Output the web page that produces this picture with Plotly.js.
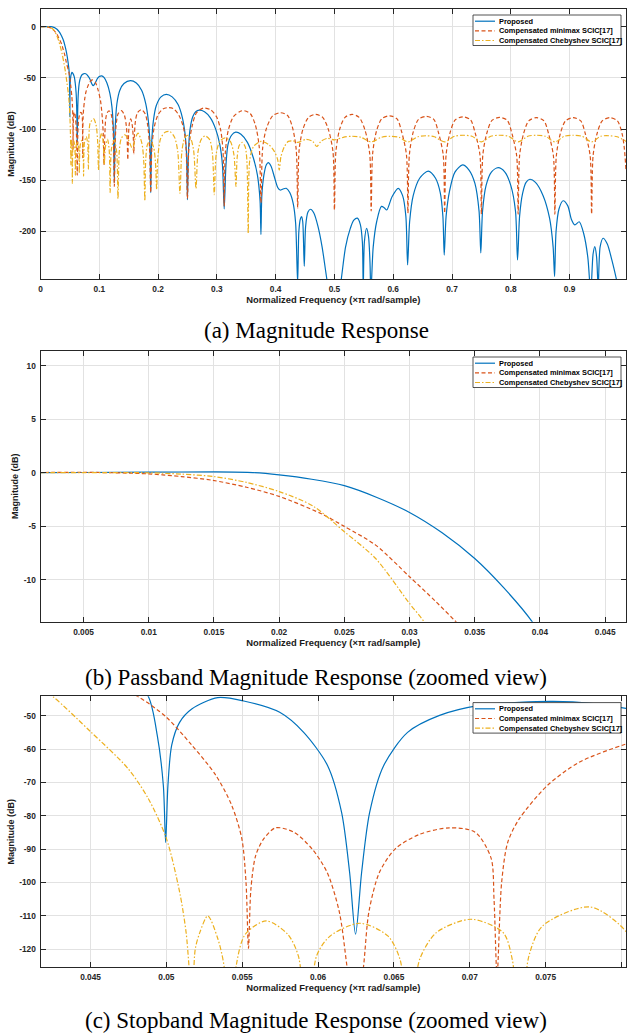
<!DOCTYPE html>
<html><head><meta charset="utf-8">
<script src="https://cdn.plot.ly/plotly-3.0.1.min.js"></script>
<style>html,body{margin:0;padding:0;background:#fff}#chart{width:627px;height:1035px}</style>
</head><body><div id="chart"></div>
<script>
const seriesNames = ["Proposed", "Compensated minimax SCIC[17]", "Compensated Chebyshev SCIC[17]"];

const proposed = [[0,0],[0.005,0.03],[0.01,0.06],[0.015,0.08],[0.018,0.02],[0.02,-0.19],[0.0225,-0.6],[0.025,-1.2],[0.0275,-2.3],[0.03,-3.7],[0.0325,-5.6],[0.035,-8.0],[0.0372,-10.7],[0.0394,-13.9],[0.042,-19.5],[0.0445,-26],[0.047,-35],[0.0488,-44.2],[0.0494,-56],[0.0498,-71],[0.04995,-88],[0.0501,-71],[0.05035,-58.8],[0.05087,-52],[0.05167,-48],[0.05338,-44.6],[0.0551,-45.6],[0.05747,-49],[0.05905,-55],[0.06063,-65],[0.06155,-79],[0.06208,-97],[0.06247,-115.5],[0.06287,-97],[0.0634,-79],[0.06432,-65],[0.0659,-55],[0.06801,-49.9],[0.07064,-46.9],[0.07325,-46],[0.0755,-45.7],[0.078,-46.3],[0.0803,-47.8],[0.084,-51],[0.0875,-56],[0.0898,-57.6],[0.093,-55],[0.097,-50.5],[0.1,-48.7],[0.104,-48],[0.108,-49.5],[0.113,-55],[0.118,-65],[0.1215,-78],[0.124,-100],[0.1256,-152],[0.127,-100],[0.13,-75],[0.135,-62],[0.142,-55.5],[0.153,-52.7],[0.163,-55],[0.172,-62],[0.179,-75],[0.1835,-92],[0.1862,-115],[0.1875,-162],[0.189,-115],[0.192,-92],[0.197,-77],[0.205,-68.5],[0.214,-66],[0.224,-68.5],[0.234,-76],[0.241,-88],[0.246,-105],[0.2485,-125],[0.25,-169],[0.2515,-125],[0.254,-102],[0.259,-88],[0.264,-83],[0.27,-81.5],[0.279,-83],[0.289,-89],[0.298,-100],[0.305,-115],[0.3095,-135],[0.3125,-178],[0.3155,-135],[0.319,-115],[0.325,-106],[0.332,-103],[0.341,-105],[0.352,-113],[0.362,-128],[0.369,-145],[0.3735,-170],[0.375,-203],[0.3765,-165],[0.38,-145],[0.384,-135],[0.3875,-132.8],[0.392,-136],[0.398,-147],[0.4035,-157],[0.4075,-159.5],[0.4125,-158.5],[0.418,-157.8],[0.424,-162],[0.43,-173],[0.434,-192],[0.4374,-250],[0.4395,-200],[0.442,-188],[0.444,-185.5],[0.446,-190],[0.4487,-234],[0.451,-195],[0.455,-181],[0.4595,-178.3],[0.465,-182],[0.472,-195],[0.479,-215],[0.4867,-245],[0.495,-275],[0.505,-275],[0.512,-245],[0.519,-215],[0.527,-197],[0.533,-189],[0.539,-187],[0.544,-193],[0.5475,-210],[0.549,-255],[0.551,-210],[0.5547,-197],[0.558,-205],[0.5605,-230],[0.562,-260],[0.566,-215],[0.572,-190],[0.58,-175.5],[0.585,-177],[0.589,-179],[0.598,-166],[0.6085,-157.8],[0.616,-165],[0.6215,-185],[0.6245,-232.7],[0.628,-190],[0.634,-165],[0.645,-148],[0.6596,-141],[0.672,-148],[0.68,-162],[0.6845,-185],[0.6868,-223],[0.69,-185],[0.696,-160],[0.705,-142],[0.718,-135],[0.729,-140],[0.739,-153],[0.746,-180],[0.749,-221],[0.752,-180],[0.758,-155],[0.767,-142],[0.7786,-137.7],[0.79,-142],[0.8,-155],[0.808,-180],[0.8115,-227.8],[0.815,-185],[0.82,-163],[0.826,-152],[0.8325,-149],[0.842,-152],[0.855,-165],[0.866,-187],[0.872,-215],[0.8745,-244],[0.877,-200],[0.882,-178],[0.889,-170],[0.897,-175],[0.903,-188],[0.909,-193.6],[0.9164,-190.5],[0.924,-202],[0.931,-225],[0.936,-260],[0.94,-222],[0.943,-214.8],[0.946,-225],[0.9487,-255],[0.952,-215],[0.957,-206.6],[0.964,-212],[0.972,-228],[0.981,-250],[0.99,-275],[0.996,-290]];

const minimax = [[0,0],[0.005,0.05],[0.01,-0.1],[0.0125,-0.35],[0.0149,-0.7],[0.0175,-1.35],[0.02,-2.2],[0.0232,-3.8],[0.025,-5.0],[0.0274,-6.75],[0.03,-9.7],[0.032,-12.0],[0.03355,-13.9],[0.036,-17],[0.038,-21],[0.041,-27],[0.044,-35],[0.0481,-44.2],[0.04996,-50.3],[0.05167,-58.8],[0.05325,-67.8],[0.0543,-76.8],[0.05497,-86.8],[0.05525,-100],[0.05541,-119.7],[0.05557,-102],[0.05588,-92],[0.0564,-87],[0.0572,-83.6],[0.0584,-84.9],[0.0596,-89.9],[0.0606,-97],[0.0614,-108.8],[0.0619,-125],[0.06245,-145],[0.063,-125],[0.06335,-108.8],[0.06404,-97],[0.06509,-89.9],[0.06667,-85.6],[0.06865,-83.6],[0.07035,-84.9],[0.0714,-92.6],[0.0716,-105],[0.0718,-128],[0.0721,-100],[0.0725,-88],[0.07325,-81],[0.0751,-71],[0.0772,-64],[0.0803,-58.5],[0.084,-54],[0.088,-52],[0.093,-54],[0.098,-62],[0.102,-72],[0.105,-88],[0.1068,-105],[0.108,-135],[0.1095,-105],[0.111,-90],[0.1135,-84],[0.117,-82.3],[0.1205,-86],[0.123,-97],[0.1243,-115],[0.1256,-156],[0.127,-115],[0.1285,-97],[0.132,-85],[0.1375,-82],[0.1425,-86],[0.146,-97],[0.1475,-112],[0.1485,-130],[0.1495,-110],[0.151,-95],[0.1535,-90],[0.156,-96],[0.1578,-108],[0.1587,-124],[0.1597,-106],[0.1615,-92],[0.165,-84],[0.1715,-81],[0.178,-85],[0.1825,-97],[0.1855,-118],[0.1875,-162],[0.1895,-118],[0.1935,-98],[0.2,-86],[0.208,-80.5],[0.217,-79],[0.226,-80],[0.235,-86],[0.243,-98],[0.2475,-118],[0.25,-168],[0.2525,-118],[0.2575,-98],[0.2655,-84],[0.277,-79.5],[0.289,-81],[0.2995,-88],[0.3065,-101],[0.3105,-122],[0.3125,-175],[0.3145,-122],[0.3195,-101],[0.328,-88],[0.34,-82.5],[0.3465,-82],[0.357,-85],[0.3655,-96],[0.372,-117],[0.375,-172],[0.378,-118],[0.3845,-99],[0.395,-87],[0.408,-84],[0.42,-86.5],[0.4285,-98],[0.435,-120],[0.4375,-177],[0.44,-120],[0.4465,-100],[0.456,-88.5],[0.468,-85.6],[0.48,-88.5],[0.4895,-100],[0.4975,-122],[0.5,-179],[0.5025,-122],[0.509,-100],[0.518,-88.5],[0.53,-85.6],[0.542,-88.5],[0.552,-101],[0.56,-124],[0.5625,-180],[0.565,-124],[0.5715,-102],[0.5805,-90],[0.594,-87],[0.6065,-90],[0.6145,-103],[0.6225,-125],[0.625,-182],[0.6275,-125],[0.634,-103],[0.643,-90.5],[0.656,-87.6],[0.669,-90.5],[0.677,-103.5],[0.685,-125],[0.6875,-182],[0.69,-125],[0.6965,-104],[0.7055,-91],[0.7185,-88],[0.7315,-91],[0.7395,-104],[0.7475,-125],[0.75,-183],[0.7525,-125],[0.759,-104.5],[0.768,-91.5],[0.781,-88.6],[0.794,-91.5],[0.802,-104.5],[0.81,-126],[0.8125,-183],[0.815,-126],[0.8215,-105],[0.8305,-92],[0.8435,-88.8],[0.8565,-92],[0.8645,-105],[0.8725,-126],[0.875,-183],[0.8775,-126],[0.884,-105],[0.893,-92],[0.906,-88.8],[0.919,-92],[0.927,-105],[0.935,-126],[0.9375,-183],[0.94,-126],[0.9465,-105],[0.9555,-92],[0.9685,-88.8],[0.9815,-92],[0.9895,-105],[0.993,-118],[0.996,-140]];

const chebyshev = [[0,0],[0.005,0.02],[0.01,0],[0.0125,-0.12],[0.015,-0.35],[0.0175,-0.9],[0.02,-1.75],[0.0226,-3.1],[0.025,-5.5],[0.0274,-8.0],[0.03,-12.2],[0.03111,-13.9],[0.034,-20],[0.037,-27],[0.04,-36],[0.0425,-44.2],[0.045,-54.8],[0.04746,-65.8],[0.0488,-74.8],[0.05,-86.8],[0.05087,-102.8],[0.0513,-115],[0.0517,-135],[0.0519,-120],[0.0522,-115],[0.05273,-110],[0.05338,-116.7],[0.0538,-125],[0.0542,-153],[0.0546,-125],[0.0552,-115.5],[0.05658,-111.5],[0.058,-115.5],[0.0587,-122],[0.0593,-145],[0.0599,-122],[0.0608,-116],[0.06276,-112.2],[0.0646,-116],[0.0654,-123],[0.066,-143],[0.0667,-123],[0.0678,-115],[0.07009,-111],[0.0722,-115],[0.0728,-123],[0.0733,-146],[0.0739,-122],[0.0748,-113],[0.07793,-107.3],[0.0803,-114.7],[0.0809,-123],[0.0815,-139],[0.0825,-105],[0.0845,-94],[0.0904,-90],[0.0945,-96],[0.097,-110],[0.0987,-140],[0.1005,-112],[0.104,-104],[0.1065,-112],[0.1085,-135],[0.1105,-117],[0.114,-110],[0.1168,-120],[0.1185,-162],[0.1205,-120],[0.125,-110.5],[0.1295,-122],[0.1318,-168],[0.134,-122],[0.1375,-109],[0.1435,-105.5],[0.15,-111],[0.157,-120],[0.16,-111],[0.166,-104],[0.1725,-114],[0.1755,-130],[0.1775,-170],[0.179,-130],[0.182,-115],[0.187,-111],[0.1925,-118],[0.1955,-132],[0.1976,-159],[0.1995,-128],[0.2045,-109],[0.212,-103],[0.2202,-102.5],[0.228,-108],[0.2335,-122],[0.2372,-162.7],[0.2405,-122],[0.245,-109],[0.2502,-106],[0.2555,-109],[0.2605,-121],[0.2645,-158],[0.268,-122],[0.2735,-110],[0.28,-106.7],[0.2875,-110],[0.2925,-124],[0.2956,-164],[0.299,-124],[0.305,-112],[0.314,-108.5],[0.323,-112],[0.329,-125],[0.3325,-156],[0.3345,-128],[0.338,-116],[0.343,-113],[0.348,-117],[0.351,-130],[0.3534,-202],[0.356,-130],[0.3625,-117],[0.375,-112],[0.388,-115],[0.398,-122],[0.4035,-130],[0.4061,-140],[0.409,-127],[0.415,-117],[0.4215,-112],[0.43,-111.5],[0.4375,-113],[0.452,-110],[0.463,-112],[0.47,-117],[0.477,-112],[0.488,-109],[0.5,-110.5],[0.515,-108],[0.53,-107],[0.545,-108],[0.5625,-112.5],[0.58,-108],[0.595,-107],[0.61,-108],[0.625,-112.5],[0.642,-107.5],[0.656,-106.5],[0.67,-107.5],[0.6875,-112.5],[0.704,-107],[0.719,-106],[0.734,-107],[0.75,-112.5],[0.766,-107],[0.781,-106],[0.796,-107],[0.8125,-112.5],[0.829,-107],[0.844,-106],[0.859,-107],[0.875,-112.5],[0.891,-107],[0.906,-106],[0.921,-107],[0.9375,-112.5],[0.953,-107],[0.967,-106.5],[0.981,-107.5],[0.996,-112]];

const xTicksA = [0, 0.1, 0.2, 0.3, 0.4, 0.5, 0.6, 0.7, 0.8, 0.9];
const xTickTextA = ["0", "0.1", "0.2", "0.3", "0.4", "0.5", "0.6", "0.7", "0.8", "0.9"];
const yTicksA = [0, -50, -100, -150, -200];
const yTickTextA = ["0", "-50", "-100", "-150", "-200"];
const xTicksB = [0.005, 0.01, 0.015, 0.02, 0.025, 0.03, 0.035, 0.04, 0.045];
const xTickTextB = ["0.005", "0.01", "0.015", "0.02", "0.025", "0.03", "0.035", "0.04", "0.045"];
const yTicksB = [10, 5, 0, -5, -10];
const yTickTextB = ["10", "5", "0", "-5", "-10"];
const xTicksC = [0.045, 0.05, 0.055, 0.06, 0.065, 0.07, 0.075, 0.08];
const xTickTextC = ["0.045", "0.05", "0.055", "0.06", "0.065", "0.07", "0.075", "0.08"];
const yTicksC = [-50, -60, -70, -80, -90, -100, -110, -120];
const yTickTextC = ["-50", "-60", "-70", "-80", "-90", "-100", "-110", "-120"];

const captions = ["(a) Magnitude Response", "(b) Passband Magnitude Response (zoomed view)", "(c) Stopband Magnitude Response (zoomed view)"];
const xTitle = "Normalized Frequency (×π rad/sample)";
const yTitle = "Magnitude (dB)";

// ---- layout / style ----
const W = 627, H = 1035;
const plotLeft = 40.5, plotRight = 626;
const panelTops = [8.7, 350.7, 696.3];
const panelBottoms = [279.3, 621.7, 967.3];
const xRanges = [[0, 0.996], [0.0017, 0.0466], [0.0417, 0.0803]];
const yRanges = [[-246.7, 17.6], [-13.9, 11.4], [-125.4, -44.2]];
const captionY = [331, 677, 1020];
const xTicks = [xTicksA, xTicksB, xTicksC], xTickText = [xTickTextA, xTickTextB, xTickTextC];
const yTicks = [yTicksA, yTicksB, yTicksC], yTickText = [yTickTextA, yTickTextB, yTickTextC];
const colors = ['#0072BD', '#D95319', '#EDB120'];
const dashes = ['solid', '4px,2.5px', '5px,2px,1.5px,2px'];
const sans = 'Liberation Sans, Arial, Helvetica, sans-serif';
const series = [proposed, minimax, chebyshev];

function axisBase() {
  return {
    showline: true, linecolor: '#262626', linewidth: 1, mirror: 'ticks',
    ticks: 'inside', ticklen: 5, tickwidth: 1, tickcolor: '#262626',
    showgrid: true, gridcolor: '#e2e2e2', gridwidth: 1, zeroline: false,
    tickfont: {family: sans, size: 8.3, color: '#262626', weight: 'bold'},
    tickmode: 'array', fixedrange: true, automargin: false, ticklabelstandoff: 2
  };
}

const data = [];
const layout = {
  width: W, height: H, margin: {l: 0, r: 0, t: 0, b: 0},
  paper_bgcolor: '#fff', plot_bgcolor: '#fff', showlegend: false,
  shapes: [], annotations: []
};

for (let p = 0; p < 3; p++) {
  const sfx = p === 0 ? '' : String(p + 1);
  series.forEach((s, i) => data.push({
    type: 'scatter', mode: 'lines', name: seriesNames[i],
    x: s.map(d => d[0]), y: s.map(d => d[1]),
    xaxis: 'x' + sfx, yaxis: 'y' + sfx, showlegend: false, hoverinfo: 'skip',
    line: {color: colors[i], width: 1.2, dash: dashes[i], shape: 'spline', smoothing: 0.8}
  }));
  layout['xaxis' + sfx] = Object.assign(axisBase(), {
    domain: [plotLeft / W, plotRight / W], range: xRanges[p], anchor: 'y' + sfx,
    tickvals: xTicks[p], ticktext: xTickText[p],
    title: {text: xTitle, font: {family: sans, size: 9.4, color: '#1a1a1a', weight: 'bold'}, standoff: 3}
  });
  layout['yaxis' + sfx] = Object.assign(axisBase(), {
    domain: [1 - panelBottoms[p] / H, 1 - panelTops[p] / H], range: yRanges[p], anchor: 'x' + sfx,
    tickvals: yTicks[p], ticktext: yTickText[p],
    title: {text: yTitle, font: {family: sans, size: 9, color: '#1a1a1a', weight: 'bold'}, standoff: 3}
  });

  // legend box
  const lt = panelTops[p];
  layout.shapes.push({type: 'rect', xref: 'paper', yref: 'paper', layer: 'above',
    x0: 473 / W, x1: 621 / W, y0: 1 - (lt + 6.3) / H, y1: 1 - (lt + 36.8) / H,
    line: {color: '#262626', width: 0.8}, fillcolor: '#ffffff'});
  const rows = [12.5, 22.2, 31.8];
  rows.forEach((dy, i) => {
    const yy = 1 - (lt + dy) / H;
    layout.shapes.push({type: 'line', xref: 'paper', yref: 'paper', layer: 'above',
      x0: 475 / W, x1: 495 / W, y0: yy, y1: yy,
      line: {color: colors[i], width: 1.2, dash: dashes[i]}});
    layout.annotations.push({xref: 'paper', yref: 'paper', x: 497 / W, y: yy,
      xanchor: 'left', yanchor: 'middle', showarrow: false, text: seriesNames[i],
      font: {family: sans, size: 7.4, color: '#000', weight: 'bold'}});
  });

  layout.annotations.push({xref: 'paper', yref: 'paper', x: 316 / W, y: 1 - captionY[p] / H,
    xanchor: 'center', yanchor: 'middle', showarrow: false, text: captions[p],
    font: {family: 'Liberation Serif, Times New Roman, serif', size: 23, color: '#000'}});
}

Plotly.newPlot('chart', data, layout, {displayModeBar: false, staticPlot: true});
</script>
</body></html>
